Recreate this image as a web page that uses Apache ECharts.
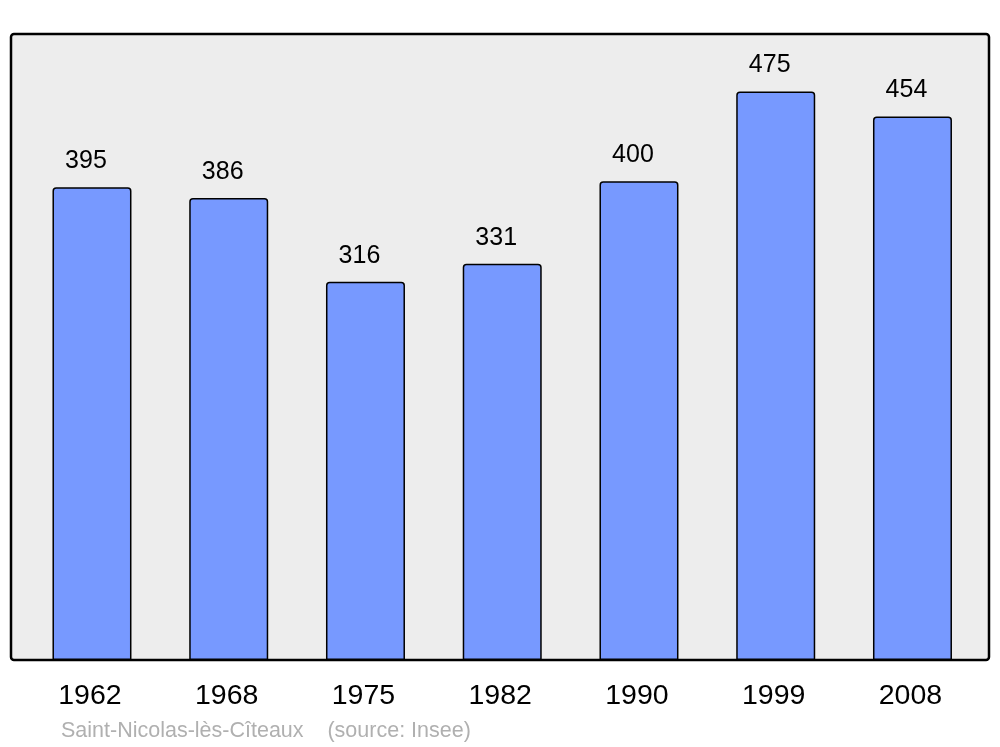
<!DOCTYPE html>
<html>
<head>
<meta charset="utf-8">
<script src="https://cdn.jsdelivr.net/npm/echarts@6/dist/echarts.min.js"></script>
<style>
html,body{margin:0;padding:0;background:#fff;}
#c{width:1000px;height:747px;}
</style>
</head>
<body>
<div id="c"></div>
<script>
var years = ['1962','1968','1975','1982','1990','1999','2008'];
var population = [395, 386, 316, 331, 400, 475, 454];
var sourceText = 'Saint-Nicolas-lès-Cîteaux    (source: Insee)';

var chart = echarts.init(document.getElementById('c'), null, {renderer:'canvas'});
chart.setOption({
  animation: false,
  backgroundColor: '#ffffff',
  textStyle: {fontFamily: 'Liberation Sans, Arial, sans-serif'},
  title: {
    text: sourceText,
    left: 61, top: 720,
    padding: 0,
    textStyle: {fontSize: 21.5, fontWeight: 'normal', color: '#b0b0b0', fontFamily: 'Liberation Sans, Arial, sans-serif'}
  },
  graphic: [{
    type: 'rect',
    z: -10,
    silent: true,
    shape: {x: 11, y: 34, width: 978, height: 626, r: 3},
    style: {fill: '#ededed', stroke: '#000000', lineWidth: 2.5}
  }],
  grid: {left: 23.6, top: 34, width: 957.25, height: 626, containLabel: false},
  xAxis: {
    type: 'category',
    data: years,
    axisLine: {show: false},
    axisTick: {show: false},
    axisLabel: {fontSize: 28.5, color: '#000', margin: 22, padding: [0, 4, 0, 0], fontFamily: 'Liberation Sans, Arial, sans-serif'}
  },
  yAxis: {
    type: 'value',
    min: 0, max: 523,
    show: false,
    splitLine: {show: false}
  },
  series: [{
    type: 'bar',
    data: population,
    barWidth: 79,
    z: 2,
    itemStyle: {color: '#7799ff', borderColor: '#000', borderWidth: 1.5, borderRadius: [3,3,0,0]},
    label: {
      show: true, position: 'top', distance: 13.5,
      offset: [-6, 0],
      fontSize: 25, color: '#000',
      fontFamily: 'Liberation Sans, Arial, sans-serif'
    }
  }]
});
</script>
</body>
</html>
